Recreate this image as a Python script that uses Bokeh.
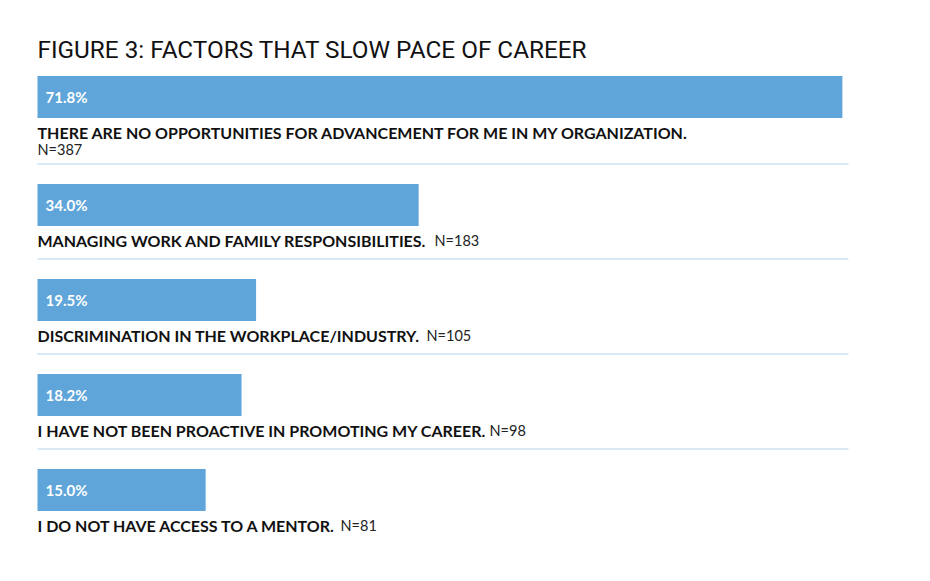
from bokeh.plotting import figure
from bokeh.models import Range1d, ColumnDataSource
from bokeh.core.properties import value
from bokeh.embed import file_html
from bokeh.resources import INLINE

title = "FIGURE 3: FACTORS THAT SLOW PACE OF CAREER"
labels = [
    "THERE ARE NO OPPORTUNITIES FOR ADVANCEMENT FOR ME IN MY ORGANIZATION.",
    "MANAGING WORK AND FAMILY RESPONSIBILITIES.",
    "DISCRIMINATION IN THE WORKPLACE/INDUSTRY.",
    "I HAVE NOT BEEN PROACTIVE IN PROMOTING MY CAREER.",
    "I DO NOT HAVE ACCESS TO A MENTOR.",
]
percents = [71.8, 34.0, 19.5, 18.2, 15.0]
n_values = [387, 183, 105, 98, 81]

# ---- layout (pixels) ----
W, H = 914, 565
PX_PER_PCT = 11.21
LEFT = 37
BAR_H = 42
ROW_STEP = 95
FIRST_TOP = 75.5
N_NEWLINE_EXTRA = 13
# pixel offsets of "N=" text after each label (row 0 wraps to next line)
n_offsets = [0, 397, 389, 452, 303]

x_start = -LEFT / PX_PER_PCT
p = figure(width=W, height=H,
           x_range=Range1d(x_start, x_start + W / PX_PER_PCT),
           y_range=Range1d(H, 0),
           output_backend="svg", toolbar_location=None, min_border=0)
p.axis.visible = False
p.grid.visible = False
p.outline_line_color = None
p.background_fill_color = "white"
p.border_fill_color = "white"

tops, bottoms, vy, ly, ny, sy = [], [], [], [], [], []
for i in range(len(percents)):
    t = FIRST_TOP + i * ROW_STEP + (N_NEWLINE_EXTRA if i > 0 else 0)
    tops.append(t)
    bottoms.append(t + BAR_H)
    vy.append(t + BAR_H / 2)
    ly.append(t + BAR_H + 14.5)
    ny.append(t + BAR_H + 14 + (17 if i == 0 else 0))
    sy.append(t + BAR_H + 19 + 14 + (13 if i == 0 else 0))

src = ColumnDataSource(dict(
    left=[0] * len(percents), right=percents, top=tops, bottom=bottoms,
    vy=vy, ly=ly, ny=ny,
    vtext=[f"{v:.1f}%" for v in percents],
    label=labels,
    ntext=[f"N={n}" for n in n_values],
    noff=n_offsets,
))

p.quad(left="left", right="right", top="top", bottom="bottom", source=src,
       fill_color="#5fa5d9", line_color=None)

p.text(x="left", y="vy", text="vtext", source=src, x_offset=8,
       text_font=value("Lato"), text_font_style="bold", text_font_size="15px",
       text_color="white", text_baseline="middle", text_align="left")

p.text(x="left", y="ly", text="label", source=src,
       text_font=value("Lato"), text_font_style="bold", text_font_size="16px",
       text_color="#111111", text_baseline="alphabetic", text_align="left")

p.text(x="left", y="ny", text="ntext", source=src, x_offset="noff",
       text_font=value("Lato"), text_font_style="normal", text_font_size="14.5px",
       text_color="#222222", text_baseline="alphabetic", text_align="left")

sep_x1 = (848 - LEFT) / PX_PER_PCT
p.segment(x0=[0] * 4, x1=[sep_x1] * 4, y0=sy[:4], y1=sy[:4],
          line_color="#b5d3ec", line_width=1)

p.text(x=[0], y=[49], text=[title],
       text_font=value("Roboto"), text_font_style="normal", text_font_size="24.3px",
       text_color="#111111", text_baseline="alphabetic", text_align="left")

open("out.html", "w").write(file_html(p, INLINE))
